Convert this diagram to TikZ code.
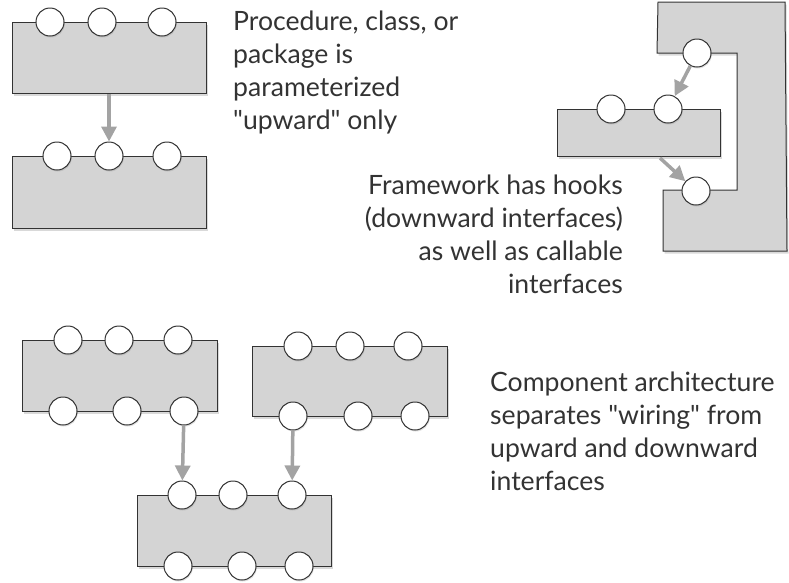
\documentclass[tikz,border=0pt]{standalone}
\usepackage{fontspec}
\setmainfont{Lato}[Ligatures=TeXOff]
\usetikzlibrary{arrows.meta,shadows,positioning}

\definecolor{boxgray}{HTML}{D4D4D4}
\definecolor{linkgray}{HTML}{A3A3A3}
\definecolor{inkgray}{HTML}{333333}

\tikzset{
  block/.style={rectangle, draw=inkgray, fill=boxgray, line width=1pt, inner sep=0pt,
    drop shadow={shadow xshift=1.5pt, shadow yshift=-2.5pt, opacity=0.3}},
  port/.style={circle, draw=inkgray, fill=white, line width=1pt, inner sep=0pt,
    minimum size=28pt, drop shadow={shadow xshift=0.8pt, shadow yshift=-1.5pt, opacity=0.25}},
  link/.style={draw=linkgray, line width=3.5pt, -{Triangle[width=15pt,length=15pt]}},
  note/.style={inner sep=0pt, text=inkgray, font=\fontsize{26.6}{32.7}\selectfont},
}

\begin{document}
\begin{tikzpicture}[x=1pt,y=-1pt]
  \useasboundingbox (0,0) rectangle (789,582);

  % plain library: parameterized upward only
  \node[block, minimum width=194pt, minimum height=71pt] (lib) at (109,57.5) {};
  \node[block, minimum width=194pt, minimum height=72pt] (user) at (109,192) {};
  \foreach \x [count=\i] in {50,102,162}
    \node[port] (lib\i) at (\x,22) {};
  \foreach \x [count=\i] in {57,109,167}
    \node[port] (user\i) at (\x,156) {};
  \draw[link] (lib) -- (user2);

  \node[note, anchor=base west, align=left] (txtlib) at (233,129)
    {Procedure, class, or\\package is\\parameterized\\"upward" only};

  % framework with hooks
  \path[draw=inkgray, fill=boxgray, line width=1pt,
    drop shadow={shadow xshift=1.5pt, shadow yshift=-2.5pt, opacity=0.3}]
    (658,2) -- (785,2) -- (787,251) -- (663,251) -- (663,190)
    -- (737,190) -- (737,53) -- (657,53) -- cycle;
  \node[block, minimum width=163pt, minimum height=47pt] (app) at (638.5,132.5) {};
  \node[port] (hookup) at (697,53) {};
  \node[port] (hookdown) at (696,191) {};
  \node[port] (app1) at (611,109) {};
  \node[port] (app2) at (668,109) {};
  \coordinate (appout) at (660,158);
  \draw[link] (hookup) -- (app2);
  \draw[link] (appout) -- (hookdown);

  \node[note, anchor=base east, align=right] (txtframe) at (623,293)
    {Framework has hooks\\(downward interfaces)\\as well as callable\\interfaces};

  % components wired together
  \node[block, minimum width=195pt, minimum height=71pt] (compa) at (119.5,375.5) {};
  \node[block, minimum width=195pt, minimum height=70pt] (compb) at (349.5,381) {};
  \node[block, minimum width=194pt, minimum height=71pt] (compc) at (234,530.5) {};
  \foreach \x [count=\i] in {68,119,178}
    \node[port] (compa\i) at (\x,340) {};
  \foreach \x [count=\i] in {63,127,184}
    \node[port] (compa\i b) at (\x,411) {};
  \foreach \x [count=\i] in {298,350,408}
    \node[port] (compb\i) at (\x,346) {};
  \foreach \x [count=\i] in {293,358,415}
    \node[port] (compb\i b) at (\x,416) {};
  \foreach \x [count=\i] in {182,233,292}
    \node[port] (compc\i) at (\x,495) {};
  \foreach \x [count=\i] in {178,242,299}
    \node[port] (compc\i b) at (\x,566) {};
  \draw[link] (compa3b) -- (compc1);
  \draw[link] (compb1b) -- (compc3);

  \node[note, anchor=base west, align=left] (txtcomp) at (490,490)
    {Component architecture\\separates "wiring" from\\upward and downward\\interfaces};
\end{tikzpicture}
\end{document}
